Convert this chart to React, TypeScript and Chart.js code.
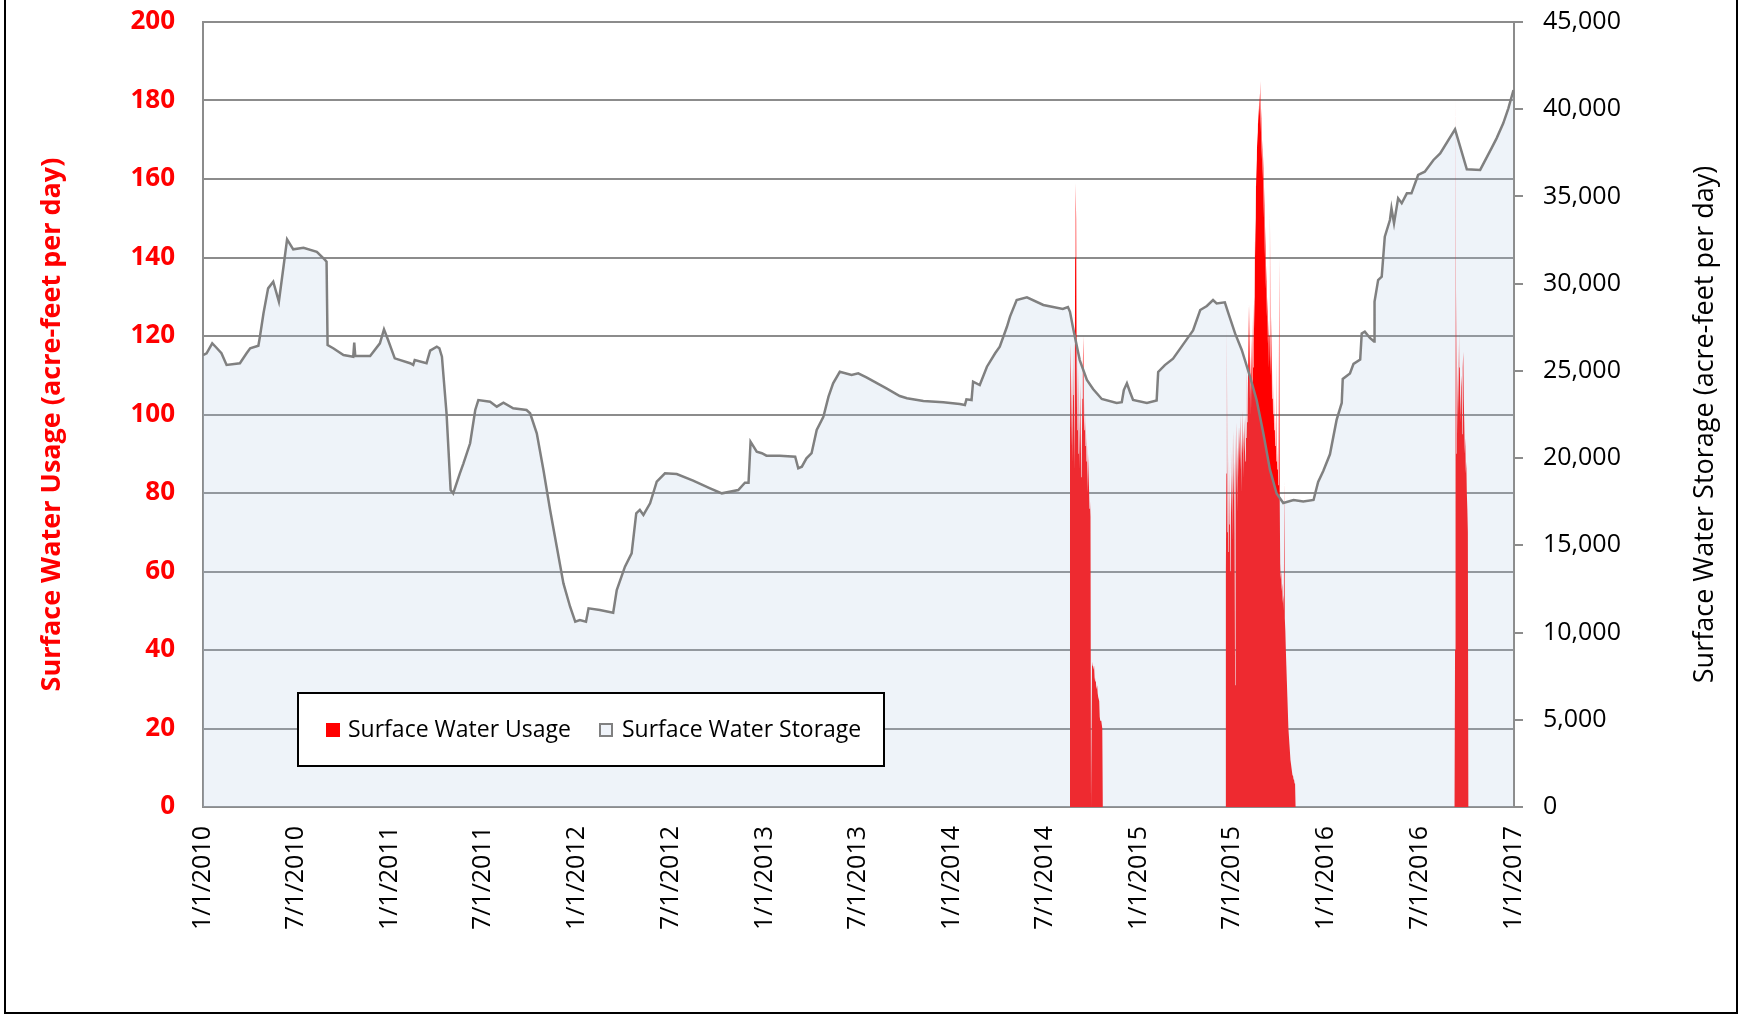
import React, { useEffect, useRef } from 'react';
import { Chart, registerables } from 'chart.js';

Chart.register(...registerables);

// ---------- DATA ----------
const X_TICK_LABELS = [
  '1/1/2010', '7/1/2010', '1/1/2011', '7/1/2011', '1/1/2012', '7/1/2012', '1/1/2013', '7/1/2013',
  '1/1/2014', '7/1/2014', '1/1/2015', '7/1/2015', '1/1/2016', '7/1/2016', '1/1/2017',
];

const LEFT_TITLE = 'Surface Water Usage (acre-feet per day)';
const RIGHT_TITLE = 'Surface Water Storage (acre-feet per day)';
const USAGE_LABEL = 'Surface Water Usage';
const STORAGE_LABEL = 'Surface Water Storage';

const STORAGE_DATES = [
  '2010-01-01', '2010-01-08', '2010-01-19', '2010-01-26', '2010-02-06', '2010-02-16', '2010-03-14', '2010-03-27',
  '2010-04-03', '2010-04-19', '2010-04-22', '2010-04-29', '2010-05-08', '2010-05-18', '2010-05-29', '2010-06-07',
  '2010-06-14', '2010-06-26', '2010-07-16', '2010-08-11', '2010-08-27', '2010-08-30', '2010-09-01', '2010-09-12',
  '2010-10-02', '2010-10-21', '2010-10-23', '2010-10-25', '2010-11-23', '2010-12-12', '2010-12-20', '2010-12-28',
  '2011-01-10', '2011-02-09', '2011-02-15', '2011-02-18', '2011-03-13', '2011-03-20', '2011-04-02', '2011-04-07',
  '2011-04-12', '2011-04-21', '2011-04-29', '2011-05-04', '2011-05-17', '2011-05-24', '2011-06-06', '2011-06-16',
  '2011-06-22', '2011-07-15', '2011-07-28', '2011-08-10', '2011-08-29', '2011-09-24', '2011-10-01', '2011-10-14',
  '2011-10-27', '2011-11-09', '2011-11-22', '2011-12-05', '2011-12-18', '2011-12-28', '2012-01-06', '2012-01-18',
  '2012-01-23', '2012-02-14', '2012-03-11', '2012-03-18', '2012-04-03', '2012-04-16', '2012-04-25', '2012-05-02',
  '2012-05-09', '2012-05-22', '2012-06-04', '2012-06-20', '2012-07-13', '2012-08-14', '2012-09-16', '2012-10-09',
  '2012-11-10', '2012-11-23', '2012-11-30', '2012-12-04', '2012-12-16', '2012-12-26', '2013-01-04', '2013-01-30',
  '2013-03-01', '2013-03-07', '2013-03-14', '2013-03-23', '2013-04-02', '2013-04-12', '2013-04-25', '2013-05-05',
  '2013-05-14', '2013-05-27', '2013-06-19', '2013-07-02', '2013-07-18', '2013-08-26', '2013-09-21', '2013-10-05',
  '2013-11-06', '2013-12-15', '2014-01-16', '2014-01-26', '2014-01-29', '2014-02-08', '2014-02-11', '2014-02-24',
  '2014-03-10', '2014-03-26', '2014-04-04', '2014-04-18', '2014-04-24', '2014-05-07', '2014-05-27', '2014-06-28',
  '2014-08-05', '2014-08-15', '2014-08-19', '2014-08-25', '2014-09-07', '2014-09-21', '2014-10-03', '2014-10-20',
  '2014-11-18', '2014-11-28', '2014-12-02', '2014-12-08', '2014-12-14', '2014-12-20', '2015-01-16', '2015-02-04',
  '2015-02-07', '2015-02-20', '2015-03-08', '2015-04-04', '2015-04-16', '2015-04-30', '2015-05-13', '2015-05-25',
  '2015-06-01', '2015-06-17', '2015-06-24', '2015-07-07', '2015-07-20', '2015-08-05', '2015-08-18', '2015-08-31',
  '2015-09-13', '2015-09-26', '2015-10-09', '2015-10-29', '2015-11-17', '2015-12-07', '2015-12-16', '2015-12-26',
  '2016-01-08', '2016-01-21', '2016-01-31', '2016-02-02', '2016-02-16', '2016-02-23', '2016-03-07', '2016-03-10',
  '2016-03-16', '2016-03-26', '2016-04-03', '2016-04-04', '2016-04-11', '2016-04-18', '2016-04-24', '2016-05-04',
  '2016-05-07', '2016-05-12', '2016-05-20', '2016-05-27', '2016-06-06', '2016-06-15', '2016-06-28', '2016-07-11',
  '2016-07-28', '2016-08-10', '2016-09-08', '2016-10-01', '2016-10-27', '2016-11-18', '2016-11-28', '2016-12-11',
  '2016-12-21', '2016-12-31',
];

const STORAGE_VALUES = [
  25900, 26010, 26580, 26370, 26010, 25340, 25440, 26010,
  26300, 26440, 26960, 28300, 29730, 30110, 28970, 30970,
  32540, 31970, 32060, 31830, 31360, 31260, 26480, 26300,
  25910, 25810, 26620, 25850, 25850, 26580, 27380, 26770,
  25720, 25440, 25340, 25620, 25440, 26160, 26390, 26300,
  25810, 22570, 18170, 17980, 19130, 19700, 20850, 22760,
  23330, 23230, 22950, 23180, 22860, 22760, 22570, 21420,
  19320, 17030, 14920, 12820, 11480, 10620, 10720, 10620,
  11390, 11290, 11140, 12440, 13780, 14540, 16840, 17030,
  16740, 17410, 18650, 19130, 19090, 18710, 18270, 17980,
  18170, 18590, 18590, 20940, 20370, 20280, 20140, 20140,
  20080, 19420, 19510, 19990, 20280, 21610, 22370, 23520,
  24290, 24950, 24760, 24860, 24630, 24000, 23560, 23430,
  23270, 23200, 23100, 23040, 23370, 23330, 24380, 24190,
  25240, 26010, 26390, 27530, 28110, 29060, 29220, 28780,
  28550, 28660, 28390, 27460, 25620, 24480, 23960, 23390,
  23160, 23210, 23900, 24290, 23790, 23330, 23160, 23300,
  24940, 25330, 25700, 26820, 27320, 28490, 28720, 29060,
  28870, 28930, 28300, 27150, 26200, 24680, 23330, 21440,
  19340, 17970, 17430, 17600, 17520, 17600, 18630, 19260,
  20220, 22190, 23160, 24540, 24850, 25400, 25650, 27150,
  27250, 26890, 26690, 28970, 30210, 30400, 32690, 33650,
  34320, 33460, 34890, 34610, 35180, 35180, 36230, 36420,
  37090, 37470, 38850, 36560, 36520, 37760, 38330, 39190,
  40050, 41100,
];

// Daily surface water usage, one value per day from the start date (zero outside these runs)
const USAGE_2014_START = '2014-08-19';
const USAGE_2014 = [
  95, 118, 110, 92, 112, 88, 105, 118, 100, 86,
  140, 159, 150, 112, 96, 116, 90, 112, 98, 86,
  108, 95, 84, 90, 104, 112, 120, 100, 96, 104,
  92, 98, 88, 94, 86, 80, 90, 82, 76, 78,
  74, 0, 0, 36, 37, 36, 35, 36, 33, 32,
  33, 31, 30, 31, 29, 28, 28, 27, 23, 22,
  22, 22, 21, 20,
];

const USAGE_2015_START = '2015-06-19';
const USAGE_2015 = [
  60, 85, 123, 70, 88, 65, 90, 72, 80, 60,
  92, 75, 85, 68, 96, 78, 88, 70, 31, 85,
  98, 80, 92, 75, 97, 84, 97, 88, 100, 86,
  94, 80, 101, 90, 96, 84, 99, 92, 88, 100,
  94, 112, 98, 105, 128, 110, 128, 104, 115, 100,
  120, 108, 125, 112, 118, 130, 122, 150, 140, 165,
  158, 172, 168, 178, 174, 182, 176, 185, 172, 178,
  165, 170, 160, 166, 150, 158, 140, 148, 132, 138,
  125, 130, 118, 124, 112, 120, 152, 115, 110, 125,
  104, 112, 100, 108, 96, 104, 92, 100, 88, 115,
  86, 92, 82, 88, 140, 80, 62, 58, 60, 55,
  57, 52, 54, 50, 83, 48, 45, 40, 36, 32,
  28, 24, 20, 18, 16, 14, 12, 11, 10, 9,
  8, 8, 7, 7, 6, 6,
];

const USAGE_2016_START = '2016-09-08';
const USAGE_2016 = [
  40, 181, 90, 132, 110, 95, 118, 100, 112, 122,
  105, 98, 110, 107, 95, 112, 116, 104, 98, 90,
  94, 85, 88, 80, 76, 70,
];

// ---------- HELPERS ----------
const ORIGIN = Date.UTC(2010, 0, 1);
const DAY = 86400000;
const dayOfIso = (s: string) => {
  const [y, m, d] = s.split('-').map(Number);
  return Math.round((Date.UTC(y, m - 1, d) - ORIGIN) / DAY);
};
const dayOfMdy = (s: string) => {
  const [m, d, y] = s.split('/').map(Number);
  return Math.round((Date.UTC(y, m - 1, d) - ORIGIN) / DAY);
};

const X_TICK_DAYS = X_TICK_LABELS.map(dayOfMdy);
const X_MAX = X_TICK_DAYS[X_TICK_DAYS.length - 1];

function buildUsage() {
  const pts: { x: number; y: number }[] = [{ x: 0, y: 0 }];
  const runs: [string, number[]][] = [
    [USAGE_2014_START, USAGE_2014],
    [USAGE_2015_START, USAGE_2015],
    [USAGE_2016_START, USAGE_2016],
  ];
  runs.forEach(([start, vals]) => {
    const s = dayOfIso(start);
    pts.push({ x: s - 1, y: 0 });
    vals.forEach((v, i) => pts.push({ x: s + i, y: v }));
    pts.push({ x: s + vals.length, y: 0 });
  });
  pts.push({ x: X_MAX, y: 0 });
  return pts;
}

const storagePoints = () => STORAGE_DATES.map((d, i) => ({ x: dayOfIso(d), y: STORAGE_VALUES[i] }));

const FONT = '"Open Sans", "DejaVu Sans", sans-serif';
const GRID = '#8c8c8c';
const STORAGE_LINE = '#808080';
const STORAGE_FILL = 'rgba(175,198,226,0.21)';

const overlayPlugin = {
  id: 'overlay',
  afterDraw(chart: any) {
    const { ctx, chartArea: a } = chart;
    const midY = (a.top + a.bottom) / 2 + 10;

    // left axis title
    ctx.save();
    ctx.translate(a.left - 151, midY);
    ctx.rotate(-Math.PI / 2);
    ctx.font = `bold 27px ${FONT}`;
    ctx.fillStyle = '#FF0000';
    ctx.textAlign = 'center';
    ctx.textBaseline = 'middle';
    ctx.fillText(LEFT_TITLE, 0, 0);
    ctx.restore();

    // right axis title
    ctx.save();
    ctx.translate(a.right + 191, midY);
    ctx.rotate(-Math.PI / 2);
    ctx.font = `27px ${FONT}`;
    ctx.fillStyle = '#000000';
    ctx.textAlign = 'center';
    ctx.textBaseline = 'middle';
    ctx.fillText(RIGHT_TITLE, 0, 0);
    ctx.restore();

    // legend
    const lx = a.left + 95;
    const ly = a.bottom - 114;
    const lw = 586;
    const lh = 73;
    ctx.save();
    ctx.fillStyle = '#ffffff';
    ctx.fillRect(lx, ly, lw, lh);
    ctx.strokeStyle = '#000000';
    ctx.lineWidth = 2;
    ctx.strokeRect(lx, ly, lw, lh);

    ctx.fillStyle = '#FF0000';
    ctx.fillRect(lx + 28, ly + 30, 14, 14);

    ctx.fillStyle = 'rgb(239,243,249)';
    ctx.fillRect(lx + 301, ly + 30, 14, 14);
    ctx.strokeStyle = STORAGE_LINE;
    ctx.lineWidth = 2;
    ctx.strokeRect(lx + 302, ly + 31, 12, 12);

    ctx.font = `23px ${FONT}`;
    ctx.fillStyle = '#000000';
    ctx.textAlign = 'left';
    ctx.textBaseline = 'middle';
    ctx.fillText(USAGE_LABEL, lx + 50, ly + 37);
    ctx.fillText(STORAGE_LABEL, lx + 324, ly + 37);
    ctx.restore();
  },
};

export default function App() {
  const canvasRef = useRef<HTMLCanvasElement | null>(null);

  useEffect(() => {
    const canvas = canvasRef.current;
    if (!canvas) return;
    const chart = new Chart(canvas, {
      type: 'line',
      data: {
        datasets: [
          {
            label: USAGE_LABEL,
            data: buildUsage(),
            yAxisID: 'y',
            fill: 'origin',
            backgroundColor: '#FF0000',
            borderColor: 'rgba(0,0,0,0)',
            borderWidth: 0,
            pointRadius: 0,
            tension: 0,
            order: 2,
          },
          {
            label: STORAGE_LABEL,
            data: storagePoints(),
            yAxisID: 'y1',
            fill: 'origin',
            backgroundColor: STORAGE_FILL,
            borderColor: STORAGE_LINE,
            borderWidth: 2.5,
            pointRadius: 0,
            tension: 0,
            order: 1,
          },
        ],
      },
      options: {
        animation: false,
        responsive: false,
        devicePixelRatio: 1,
        events: [],
        parsing: false as any,
        layout: { padding: { top: 22, left: 0, right: 0, bottom: 0 } },
        plugins: {
          legend: { display: false },
          tooltip: { enabled: false },
        },
        scales: {
          x: {
            type: 'linear',
            min: 0,
            max: X_MAX,
            grid: { display: false, drawTicks: false },
            border: { display: true, color: GRID, width: 2 },
            afterBuildTicks: (scale: any) => {
              scale.ticks = X_TICK_DAYS.map((v) => ({ value: v }));
            },
            afterFit: (scale: any) => {
              scale.height = 210;
              scale.paddingLeft = 0;
              scale.paddingRight = 0;
            },
            ticks: {
              autoSkip: false,
              minRotation: 90,
              maxRotation: 90,
              padding: 19,
              color: '#000000',
              font: { family: FONT, size: 25 },
              callback: (value: any) => {
                const i = X_TICK_DAYS.indexOf(Number(value));
                return i >= 0 ? X_TICK_LABELS[i] : '';
              },
            },
          },
          y: {
            type: 'linear',
            position: 'left',
            min: 0,
            max: 200,
            grid: { color: GRID, lineWidth: 2, drawTicks: false },
            border: { display: true, color: GRID, width: 2 },
            afterFit: (scale: any) => {
              scale.width = 203;
              scale.paddingTop = 0;
              scale.paddingBottom = 0;
            },
            ticks: {
              stepSize: 20,
              padding: 28,
              color: '#FF0000',
              font: { family: FONT, size: 26, weight: 'bold' },
            },
          },
          y1: {
            type: 'linear',
            position: 'right',
            min: 0,
            max: 45000,
            grid: { drawOnChartArea: false, drawTicks: true, tickLength: 9, color: GRID, lineWidth: 2 },
            border: { display: true, color: GRID, width: 2 },
            afterFit: (scale: any) => {
              scale.width = 225;
              scale.paddingTop = 0;
              scale.paddingBottom = 0;
            },
            ticks: {
              stepSize: 5000,
              padding: 20,
              color: '#000000',
              font: { family: FONT, size: 25 },
              callback: (value: any) => Number(value).toLocaleString('en-US'),
            },
          },
        },
      },
      plugins: [overlayPlugin],
    } as any);
    return () => chart.destroy();
  }, []);

  return (
    <div
      style={{
        position: 'fixed',
        left: 0,
        top: 0,
        width: 1739,
        height: 1017,
        overflow: 'hidden',
        background: '#ffffff',
      }}
    >
      <canvas ref={canvasRef} width={1739} height={1017} style={{ position: 'absolute', left: 0, top: 0 }} />
      <div
        style={{
          position: 'absolute',
          left: 4,
          top: -10,
          width: 1734,
          height: 1024,
          boxSizing: 'border-box',
          border: '2px solid #000000',
          pointerEvents: 'none',
        }}
      />
    </div>
  );
}
